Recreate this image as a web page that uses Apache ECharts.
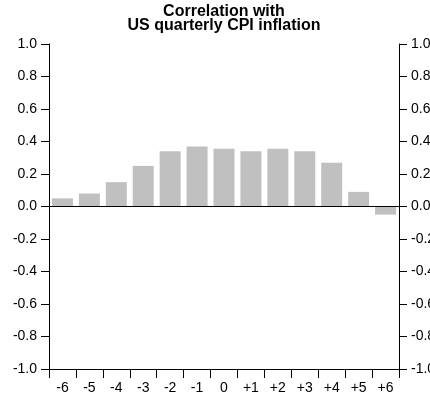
<!DOCTYPE html>
<html>
<head>
<meta charset="utf-8">
<script src="https://cdn.jsdelivr.net/npm/echarts@6/dist/echarts.min.js"></script>
<style>
html,body{margin:0;padding:0;background:#fff;}
#chart{width:430px;height:404px;}
</style>
</head>
<body>
<div id="chart"></div>
<script>
const titleLines = ['Correlation with', 'US quarterly CPI inflation'];
const categories = ['-6', '-5', '-4', '-3', '-2', '-1', '0', '+1', '+2', '+3', '+4', '+5', '+6'];
const correlation = [0.05, 0.08, 0.15, 0.25, 0.34, 0.37, 0.355, 0.34, 0.355, 0.34, 0.27, 0.09, -0.05];
const yMin = -1.0, yMax = 1.0, yStep = 0.2;

const chart = echarts.init(document.getElementById('chart'), null, {renderer: 'canvas'});
const font = 'Liberation Sans, Arial, sans-serif';
const yAxisCommon = {
  type: 'value', min: yMin, max: yMax, interval: yStep,
  axisLine: {show: true, lineStyle: {color: '#000', width: 1}},
  axisTick: {show: true, length: 8, lineStyle: {color: '#000'}},
  axisLabel: {color: '#000', fontFamily: font, fontSize: 14, margin: 12,
    formatter: v => v.toFixed(1)},
  splitLine: {show: false}
};
chart.setOption({
  animation: false,
  grid: {left: 49, right: 31, top: 44, bottom: 35, containLabel: false, outerBoundsMode: 'none'},
  graphic: [{
    type: 'text', x: 224, y: 5,
    style: {text: titleLines.join('\n'), align: 'center', verticalAlign: 'top',
      font: 'bold 16px ' + font, fill: '#000', lineHeight: 14}
  }],
  xAxis: {
    type: 'category', data: categories,
    axisLine: {show: true, onZero: false, lineStyle: {color: '#000'}},
    axisTick: {show: true, length: 9, alignWithLabel: false, lineStyle: {color: '#000'}},
    axisLabel: {color: '#000', fontFamily: font, fontSize: 14, margin: 12, interval: 0}
  },
  yAxis: [
    Object.assign({}, yAxisCommon, {position: 'left'}),
    Object.assign({}, yAxisCommon, {position: 'right'})
  ],
  series: [{
    type: 'bar', data: correlation, barCategoryGap: '22%',
    itemStyle: {color: '#c0c0c0'},
    markLine: {
      silent: true, symbol: 'none', label: {show: false},
      lineStyle: {color: '#000', width: 1, type: 'solid'},
      data: [{yAxis: 0}]
    }
  }]
});
</script>
</body>
</html>
